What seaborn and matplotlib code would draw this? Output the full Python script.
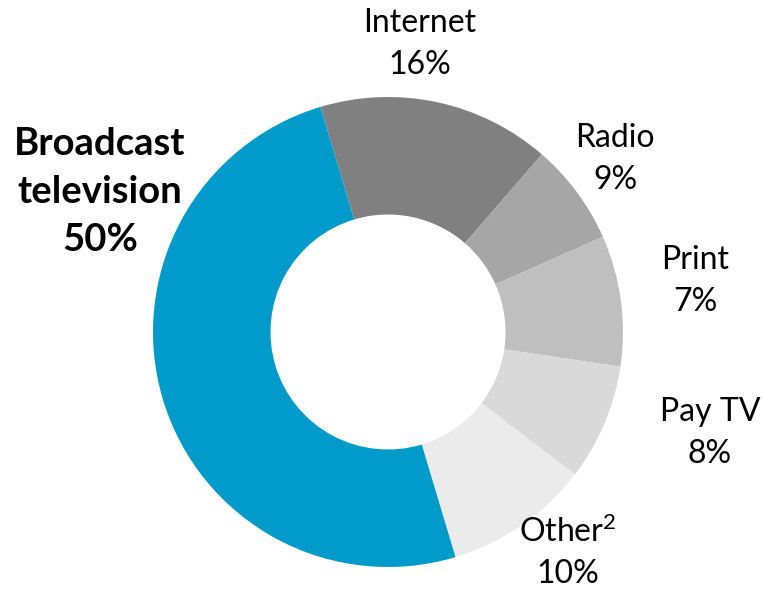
import matplotlib
matplotlib.use("Agg")
import matplotlib.pyplot as plt
import seaborn as sns

# Data (clockwise from the top)
categories = ["Internet", "Radio", "Print", "Pay TV", "Other$^{2}$", "Broadcast\ntelevision"]
shares = [16, 7, 9, 8, 10, 50]          # slice sizes as drawn
pct_labels = ["16%", "9%", "7%", "8%", "10%", "50%"]  # percentages as printed
colors = ["#808080", "#A6A6A6", "#BFBFBF", "#D9D9D9", "#EBEBEB", "#009BCB"]

sns.set_theme(style="white")
plt.rcParams["font.family"] = ["Lato", "DejaVu Sans"]
plt.rcParams["mathtext.fontset"] = "custom"
plt.rcParams["mathtext.rm"] = "Lato"
plt.rcParams["mathtext.it"] = "Lato"
plt.rcParams["mathtext.default"] = "regular"

W, H = 762, 589
cx, cy, R = 388, 332, 235
fig = plt.figure(figsize=(W / 100, H / 100), dpi=100)
ax = fig.add_axes([0, 0, 1, 1])

ax.pie(shares, colors=colors, startangle=106.7, counterclock=False,
       radius=1, wedgeprops=dict(width=0.5, linewidth=0))

ax.set_xlim(-cx / R, (W - cx) / R)
ax.set_ylim(-(H - cy) / R, cy / R)
ax.set_aspect("equal")
ax.axis("off")

def px(x, y):
    return ((x - cx) / R, (cy - y) / R)

label_px = [(420, 44), (615, 159), (695, 281), (710, 433), (568, 552), (100, 192)]
for i, (name, pct) in enumerate(zip(categories, pct_labels)):
    x, y = px(*label_px[i])
    bold = i == len(categories) - 1
    ax.text(x, y, f"{name}\n{pct}", ha="center", va="center",
            fontsize=27.5 if bold else 23, fontweight="bold" if bold else "normal",
            color="black", linespacing=1.5 if bold else 1.48)

fig.savefig("out.png", dpi=100)
